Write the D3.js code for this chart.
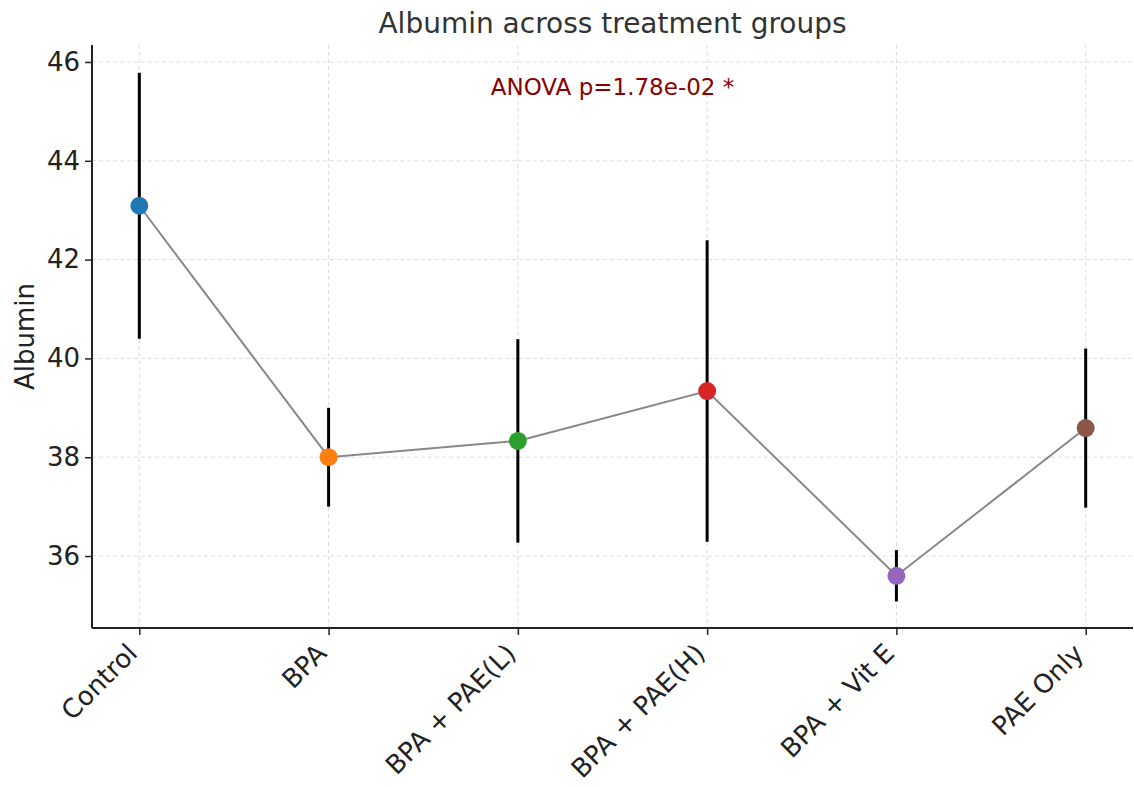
<!DOCTYPE html>
<html><head><meta charset="utf-8">
<script src="https://cdn.jsdelivr.net/npm/d3@7"></script>
<style>body{margin:0;background:#fff}svg{display:block}text{font-family:"DejaVu Sans",sans-serif}</style>
</head><body>
<svg id="c" width="1134" height="787"></svg>
<script>
const groups = ["Control","BPA","BPA + PAE(L)","BPA + PAE(H)","BPA + Vit E","PAE Only"];
const means = [43.09, 38.0, 38.33, 39.34, 35.60, 38.59];
const errs = [2.69, 1.0, 2.06, 3.05, 0.52, 1.61];
const colors = ["#1f77b4","#ff7f0e","#2ca02c","#d62728","#9467bd","#8c564b"];
const yTicks = [36,38,40,42,44,46];

const svg = d3.select("#c");
const L=92, R=1133, T=45, B=628;
const x = d3.scaleLinear().domain([-0.25, 5.25]).range([L, R]);
const y = d3.scaleLinear().domain([34.543, 46.344]).range([B, T]);

// grid
const g = svg.append("g");
g.selectAll("line.gx").data(groups).join("line")
 .attr("x1",(d,i)=>x(i)).attr("x2",(d,i)=>x(i)).attr("y1",T).attr("y2",B)
 .attr("stroke","#dddddd").attr("stroke-width",1).attr("stroke-dasharray","4,3");
g.selectAll("line.gy").data(yTicks).join("line")
 .attr("x1",L).attr("x2",R).attr("y1",d=>y(d)).attr("y2",d=>y(d))
 .attr("stroke","#dddddd").attr("stroke-width",1).attr("stroke-dasharray","4,3");

// axes
const yAxis = d3.axisLeft(y).tickValues(yTicks).tickSize(7).tickPadding(5);
const ya = svg.append("g").attr("transform",`translate(${L},0)`).call(yAxis);
ya.select(".domain").attr("d",`M0,${T}V${B}`).attr("stroke","#222").attr("stroke-width",2);
ya.selectAll(".tick line").attr("stroke","#222").attr("stroke-width",1.5);
ya.selectAll(".tick text").attr("font-size",26).attr("fill","#222").attr("font-family","DejaVu Sans");

const xAxis = d3.axisBottom(x).tickValues(d3.range(groups.length)).tickFormat(i=>groups[i]).tickSize(7).tickPadding(6);
const xa = svg.append("g").attr("transform",`translate(0,${B})`).call(xAxis);
xa.select(".domain").attr("d",`M${L},0H${R}`).attr("stroke","#222").attr("stroke-width",2);
xa.selectAll(".tick line").attr("stroke","#222").attr("stroke-width",1.5);
xa.selectAll(".tick text").attr("font-size",26).attr("fill","#222").attr("font-family","DejaVu Sans")
 .attr("text-anchor","end").attr("dy",null).attr("y",null)
 .attr("transform","translate(-1,27) rotate(-45)");

// error bars
svg.selectAll("line.err").data(means).join("line")
 .attr("x1",(d,i)=>x(i)).attr("x2",(d,i)=>x(i))
 .attr("y1",(d,i)=>y(d-errs[i])).attr("y2",(d,i)=>y(d+errs[i]))
 .attr("stroke","#000").attr("stroke-width",3);

// line
const line = d3.line().x((d,i)=>x(i)).y(d=>y(d));
svg.append("path").datum(means).attr("d",line).attr("fill","none").attr("stroke","#888").attr("stroke-width",2);

// points
svg.selectAll("circle.pt").data(means).join("circle")
 .attr("cx",(d,i)=>x(i)).attr("cy",d=>y(d)).attr("r",9).attr("fill",(d,i)=>colors[i]);

// title
svg.append("text").attr("x",(L+R)/2).attr("y",33).attr("text-anchor","middle")
 .attr("font-size",28).attr("fill","#333").text("Albumin across treatment groups");
svg.append("text").attr("x",(L+R)/2).attr("y",95).attr("text-anchor","middle")
 .attr("font-size",23).attr("fill","#8b0000").text("ANOVA p=1.78e-02 *");
svg.append("text").attr("transform",`translate(34,${(T+B)/2}) rotate(-90)`).attr("text-anchor","middle")
 .attr("font-size",26).attr("fill","#222").text("Albumin");
</script>
</body></html>
